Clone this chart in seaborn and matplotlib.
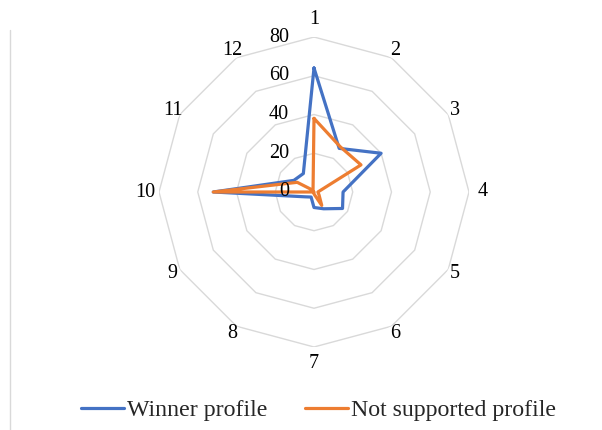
import numpy as np
import pandas as pd
import matplotlib
matplotlib.use("Agg")
import matplotlib.pyplot as plt
import matplotlib.transforms as mtransforms
from matplotlib.lines import Line2D
import seaborn as sns

# ---- data ----
categories = ["1", "2", "3", "4", "5", "6", "7", "8", "9", "10", "11", "12"]
winner = [64, 26, 40, 15, 17, 10, 8, 3, 5, 52, 12, 11]
not_supported = [38, 27, 28, 2, 3, 8, 1, 0, 0, 52, 10, 1]
series_names = ["Winner profile", "Not supported profile"]
radial_ticks = [0, 20, 40, 60, 80]

sns.set_theme(style="white")
plt.rcParams["font.family"] = ["Liberation Serif", "DejaVu Serif"]

W, H = 602, 430
fig = plt.figure(figsize=(W / 100, H / 100), dpi=100)
fig.patch.set_facecolor("white")

cx, cy, R = 314, 192, 155
ax = fig.add_axes([(cx - R) / W, (H - cy - R) / H, 2 * R / W, 2 * R / H],
                  projection="polar")
ax.set_theta_zero_location("N")
ax.set_theta_direction(-1)
ax.set_ylim(0, 80)
ax.grid(False)
ax.spines["polar"].set_visible(False)
ax.set_xticks([])
ax.set_yticks([])
ax.set_facecolor("white")

n = len(categories)
theta = np.arange(n) * 2 * np.pi / n
theta_closed = np.append(theta, 2 * np.pi)

# polygon grid rings
for r in radial_ticks[1:]:
    ax.plot(theta_closed, [r] * (n + 1), color="#D9D9D9", lw=1.0, zorder=1)

# series via seaborn
colors = ["#4472C4", "#ED7D31"]
for name, vals, col in zip(series_names, [winner, not_supported], colors):
    df = pd.DataFrame({"theta": theta_closed,
                       "value": list(vals) + [vals[0]]})
    sns.lineplot(data=df, x="theta", y="value", ax=ax, sort=False,
                 estimator=None, color=col, lw=2.3, label=name, zorder=3)

ax.set_xlabel("")
ax.set_ylabel("")

# category labels
for i, lab in enumerate(categories):
    ang = theta[i]
    s, c = abs(np.sin(ang)), abs(np.cos(ang))
    if c > 0.99:
        rpx = 172
    elif s > 0.99:
        rpx = 169
    else:
        rpx = 163
    ax.text(ang, rpx / R * 80, lab, ha="center", va="center",
            fontsize=14.5, color="#000000")

# radial tick labels
off = mtransforms.offset_copy(ax.transData, fig=fig, x=-25, y=0, units="dots")
for v in radial_ticks:
    ax.text(0, v, str(v), transform=off, ha="right", va="center",
            fontsize=14.5, color="#000000")

# legend
handles, labels = ax.get_legend_handles_labels()
if ax.get_legend() is not None:
    ax.get_legend().remove()
fig.legend(handles, labels, loc="center", bbox_to_anchor=(318.5 / W, 1 - 410 / H),
           ncol=2, frameon=False, fontsize=17.2, handlelength=1.8,
           handletextpad=0.1, columnspacing=1.6)

# left border line of chart area
fig.add_artist(Line2D([10 / W, 10 / W], [0, 1 - 30 / H], color="#D9D9D9",
                      lw=1.0, transform=fig.transFigure))

fig.savefig("out.png", dpi=100, facecolor="white")
